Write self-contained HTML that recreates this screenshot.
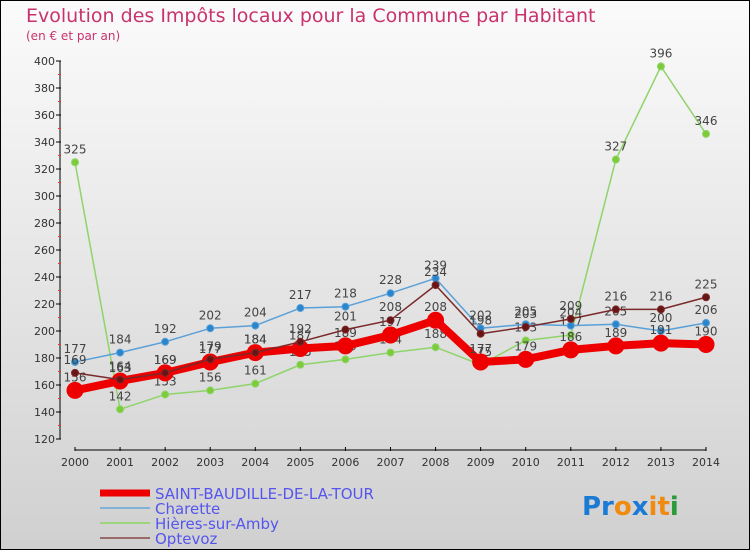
<!DOCTYPE html>
<html><head><meta charset="utf-8"><style>
body{margin:0;width:750px;height:550px;overflow:hidden}
svg{display:block;font-family:"DejaVu Sans","Liberation Sans",sans-serif}
</style></head><body>
<svg id="chart" width="750" height="550" viewBox="0 0 750 550">
<defs><linearGradient id="bg" x1="0" y1="0" x2="0" y2="1"><stop offset="0" stop-color="#fbfbfb"/><stop offset="1" stop-color="#d0d0d0"/></linearGradient></defs>
<rect x="0.5" y="0.5" width="749" height="549" fill="url(#bg)" stroke="#000"/>
<text x="26" y="22" font-size="19" fill="#c8336e">Evolution des Impôts locaux pour la Commune par Habitant</text>
<text x="26" y="40" font-size="12" fill="#c8336e">(en € et par an)</text>
<g id="axes"></g><g id="series"></g>
<g>
<line x1="100" y1="493" x2="150" y2="493" stroke="#e00" stroke-width="7"/>
<text x="155" y="499" font-size="15" fill="#5555ee">SAINT-BAUDILLE-DE-LA-TOUR</text>
<line x1="100" y1="508" x2="150" y2="508" stroke="#7fb2d5" stroke-width="2"/>
<text x="155" y="514" font-size="15" fill="#5555ee">Charette</text>
<line x1="100" y1="523" x2="150" y2="523" stroke="#9ed47e" stroke-width="2"/>
<text x="155" y="529" font-size="15" fill="#5555ee">Hières-sur-Amby</text>
<line x1="100" y1="538" x2="150" y2="538" stroke="#9a6a6a" stroke-width="2"/>
<text x="155" y="544" font-size="15" fill="#5555ee">Optevoz</text>
</g>
<text x="582" y="515" font-size="26" font-weight="bold"><tspan fill="#1a7ad4">Pr</tspan><tspan fill="#f08a10">o</tspan><tspan fill="#1a7ad4">x</tspan><tspan fill="#f08a10">i</tspan><tspan fill="#f08a10">t</tspan><tspan fill="#2a9a3a">i</tspan></text>
</svg>
<script>
const years=[2000,2001,2002,2003,2004,2005,2006,2007,2008,2009,2010,2011,2012,2013,2014];
const yTicks=[120,140,160,180,200,220,240,260,280,300,320,340,360,380,400];
const saintBaudille=[156,163,169,177,184,187,189,197,208,177,179,186,189,191,190];
const charette=[177,184,192,202,204,217,218,228,239,202,205,204,205,200,206];
const hieres=[325,142,153,156,161,175,179,184,188,175,193,197,327,396,346];
const optevoz=[169,164,169,179,184,192,201,208,234,198,203,209,216,216,225];
const NS="http://www.w3.org/2000/svg";
const x0=75,x1=706,yB=439,yT=61,vMin=120,vMax=400;
const X=i=>x0+(x1-x0)*i/(years.length-1);
const Y=v=>yB-(v-vMin)*(yB-yT)/(vMax-vMin);
function mk(tag,attrs,parent){const e=document.createElementNS(NS,tag);for(const k in attrs)e.setAttribute(k,attrs[k]);parent.appendChild(e);return e;}
const ax=document.getElementById('axes');
let l=mk('line',{x1:60,y1:yT,x2:60,y2:yB,stroke:'#000'},ax);


yTicks.forEach(v=>{const t=mk('line',{x1:56,y1:Y(v),x2:61,y2:Y(v),stroke:'#000'},ax);


if(v<400){const m=mk('line',{x1:58,y1:Y(v+10),x2:61,y2:Y(v+10),stroke:'#e33'},ax);

}
const tx=mk('text',{x:55,y:Y(v)+4,'font-size':11,fill:'#333','text-anchor':'end'},ax);tx.textContent=v;

});
l=mk('line',{x1:x0,y1:450,x2:x1,y2:450,stroke:'#000'},ax);


years.forEach((yr,i)=>{const t=mk('line',{x1:X(i),y1:447,x2:X(i),y2:451,stroke:'#000'},ax);


const tx=mk('text',{x:X(i),y:466,'font-size':11,fill:'#333','text-anchor':'middle'},ax);tx.textContent=yr;

});
const sg=document.getElementById('series');
function draw(vals,name,color,w,r,dot){const g=mk('g',{},sg);


const p=mk('polyline',{points:vals.map((v,i)=>X(i)+','+Y(v)).join(' '),fill:'none',stroke:color,'stroke-width':w,'stroke-linejoin':'round'},g);


vals.forEach((v,i)=>{const c=mk('circle',{cx:X(i),cy:Y(v),r:r,fill:dot,stroke:color,'stroke-width':1},g);


const t=mk('text',{x:X(i),y:Y(v)-9,'font-size':12,fill:'#444','text-anchor':'middle'},g);t.textContent=v;

});}
draw(hieres,'hieres','#8fd46a',1.5,3.5,'#7ccc3a');
draw(charette,'charette','#5aa0d8',1.5,3.5,'#2a86cc');
draw(saintBaudille,'saint-baudille','#ee0000',8,8,'#ee0000');
draw(optevoz,'optevoz','#7a2a2a',1.5,3.5,'#6a1515');
</script>
</body></html>
